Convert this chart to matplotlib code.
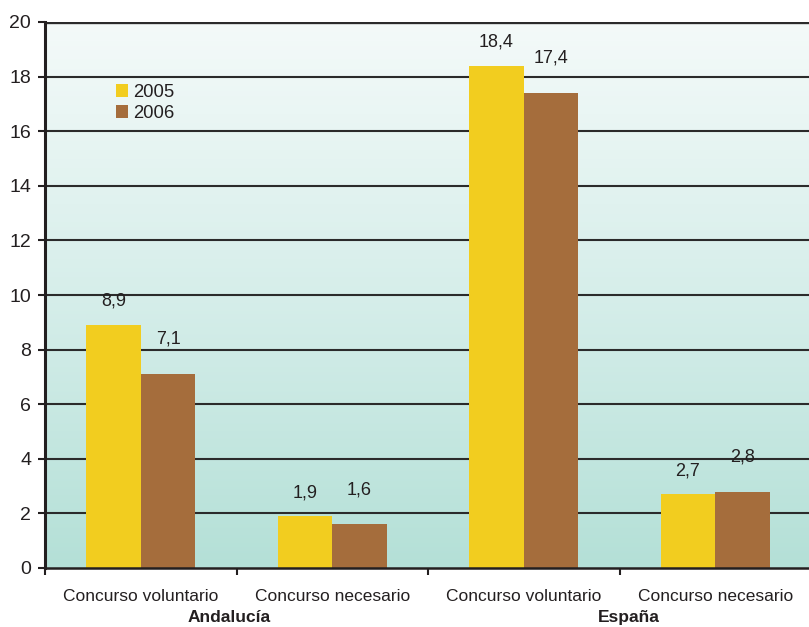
import matplotlib
matplotlib.use("Agg")
import matplotlib.pyplot as plt
import numpy as np
from matplotlib.colors import LinearSegmentedColormap

plt.rcParams['font.family'] = ['Liberation Sans', 'DejaVu Sans']

categories = ["Concurso voluntario", "Concurso necesario",
              "Concurso voluntario", "Concurso necesario"]
groups = ["Andalucía", "España"]
series_names = ["2005", "2006"]
values_2005 = [8.9, 1.9, 18.4, 2.7]
values_2006 = [7.1, 1.6, 17.4, 2.8]
value_labels_2005 = ["8,9", "1,9", "18,4", "2,7"]
value_labels_2006 = ["7,1", "1,6", "17,4", "2,8"]

col_2005 = "#f2cd1f"
col_2006 = "#a56d3c"
text_col = "#231f20"

fig = plt.figure(figsize=(8.09, 6.27), dpi=100)
ax = fig.add_axes([45/809, 59/627, 766/809, 546/627])
ax.set_xlim(0, 4)
ax.set_ylim(0, 20)

# background gradient
cmap = LinearSegmentedColormap.from_list("bg", ["#b4e0d7", "#d6eeea", "#f4faf9"])
grad = np.linspace(0, 1, 256).reshape(-1, 1)
ax.imshow(grad, aspect="auto", cmap=cmap, extent=[0, 4, 0, 20],
          origin="lower", zorder=0)

# gridlines
for yv in range(2, 21, 2):
    ax.axhline(yv, color="#2b2b2b", lw=1.5 if yv < 20 else 2.4, zorder=1)

x = np.arange(len(categories)) + 0.5
w = 0.285
ax.bar(x - w/2, values_2005, w, color=col_2005, zorder=2, label=series_names[0])
ax.bar(x + w/2, values_2006, w, color=col_2006, zorder=2, label=series_names[1])

for xi, v, s in zip(x - w/2, values_2005, value_labels_2005):
    ax.annotate(s, (xi, v), xytext=(0, 17), textcoords="offset points",
                ha="center", va="center", fontsize=13, color=text_col)
for xi, v, s in zip(x + w/2, values_2006, value_labels_2006):
    ax.annotate(s, (xi, v), xytext=(0, 25), textcoords="offset points",
                ha="center", va="center", fontsize=13, color=text_col)

# spines
for sp in ["top", "right"]:
    ax.spines[sp].set_visible(False)
ax.spines["left"].set_linewidth(2.2)
ax.spines["left"].set_color("#231f20")
ax.spines["bottom"].set_linewidth(1.8)
ax.spines["bottom"].set_color("#231f20")

ax.set_yticks(range(0, 21, 2))
ax.tick_params(axis="y", length=5, width=1.5, pad=5, labelsize=14,
               colors=text_col)
ax.set_xticks([0, 1, 2, 3, 4])
ax.set_xticklabels([])
ax.tick_params(axis="x", length=5, width=1.5, colors=text_col)

for xi, c in zip(x, categories):
    ax.text(xi, -0.78, c, ha="center", va="top", fontsize=12.5,
            color=text_col)
for gi, g in enumerate(groups):
    ax.text(1 + 2*gi - 0.04 + 0.09*gi, -1.55, g, ha="center", va="top",
            fontsize=12.5, fontweight="bold", color=text_col)

leg = ax.legend(loc="upper left", bbox_to_anchor=(0.080, 0.903), frameon=False,
                fontsize=13.3, handlelength=0.7, handleheight=0.7,
                handletextpad=0.25, labelspacing=0.2, borderpad=0)
for t in leg.get_texts():
    t.set_color(text_col)

fig.savefig("out.png", dpi=100)
